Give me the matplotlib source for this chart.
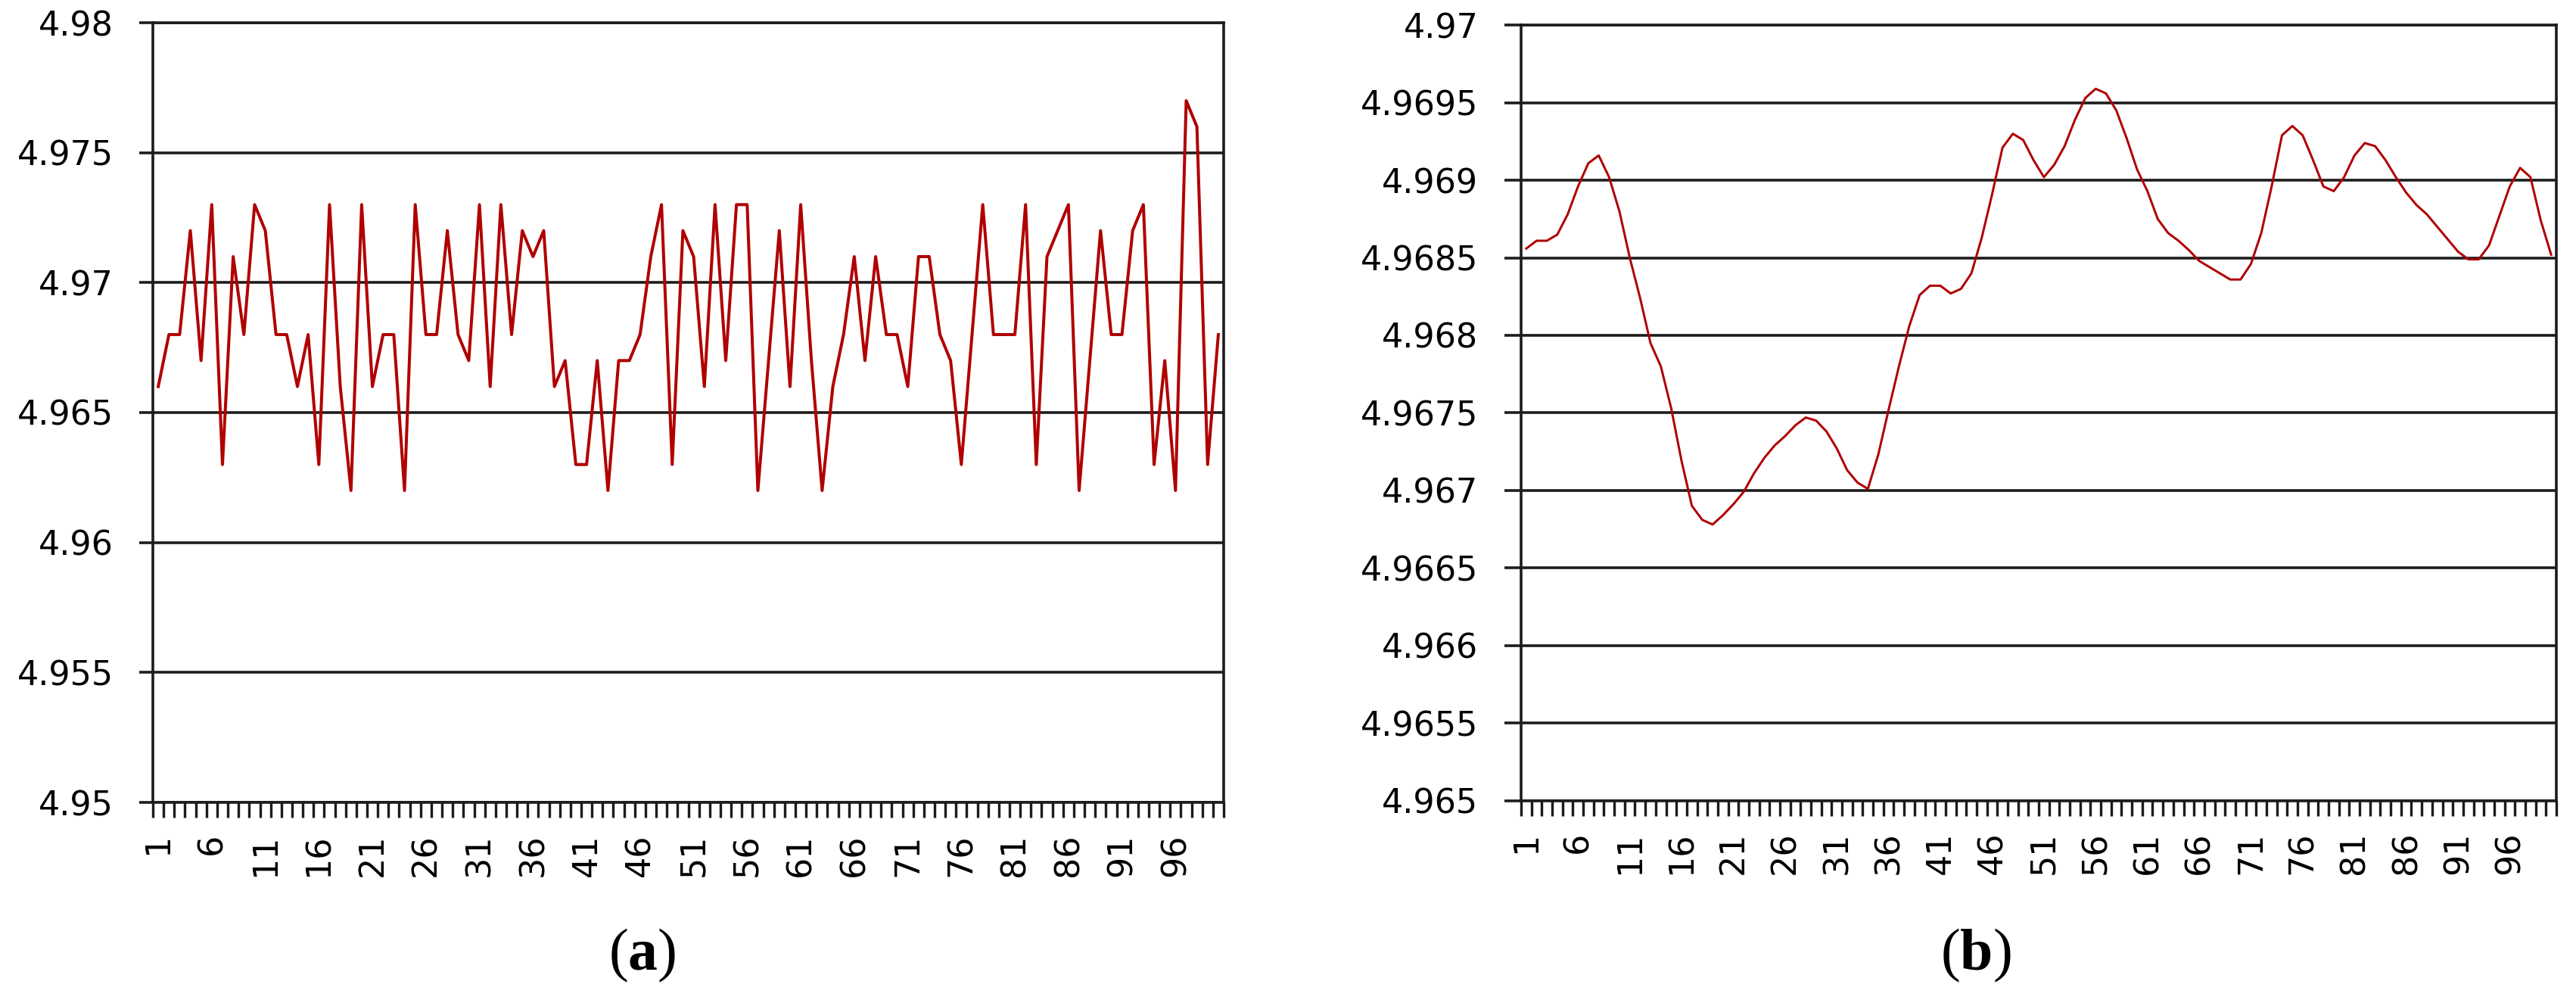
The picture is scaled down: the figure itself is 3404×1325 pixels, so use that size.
import numpy as np
import matplotlib
matplotlib.use("Agg")
import matplotlib.pyplot as plt

# ---------------- data ----------------
series_a = [4.966, 4.968, 4.968, 4.972, 4.967, 4.973, 4.963, 4.971, 4.968, 4.973,
            4.972, 4.968, 4.968, 4.966, 4.968, 4.963, 4.973, 4.966, 4.962, 4.973,
            4.966, 4.968, 4.968, 4.962, 4.973, 4.968, 4.968, 4.972, 4.968, 4.967,
            4.973, 4.966, 4.973, 4.968, 4.972, 4.971, 4.972, 4.966, 4.967, 4.963,
            4.963, 4.967, 4.962, 4.967, 4.967, 4.968, 4.971, 4.973, 4.963, 4.972,
            4.971, 4.966, 4.973, 4.967, 4.973, 4.973, 4.962, 4.967, 4.972, 4.966,
            4.973, 4.967, 4.962, 4.966, 4.968, 4.971, 4.967, 4.971, 4.968, 4.968,
            4.966, 4.971, 4.971, 4.968, 4.967, 4.963, 4.968, 4.973, 4.968, 4.968,
            4.968, 4.973, 4.963, 4.971, 4.972, 4.973, 4.962, 4.967, 4.972, 4.968,
            4.968, 4.972, 4.973, 4.963, 4.967, 4.962, 4.977, 4.976, 4.963, 4.968]

series_b = [4.96856, 4.96861, 4.96861, 4.96865, 4.96878, 4.96896, 4.96911, 4.96916, 4.96902, 4.96880,
            4.96850, 4.96824, 4.96795, 4.96780, 4.96753, 4.96719, 4.96690, 4.96681, 4.96678, 4.96684,
            4.96691, 4.96699, 4.96711, 4.96721, 4.96729, 4.96735, 4.96742, 4.96747, 4.96745, 4.96738,
            4.96727, 4.96713, 4.96705, 4.96701, 4.96723, 4.96752, 4.96780, 4.96806, 4.96826, 4.96832,
            4.96832, 4.96827, 4.96830, 4.96840, 4.96863, 4.96891, 4.96921, 4.96930, 4.96926, 4.96913,
            4.96902, 4.96910, 4.96922, 4.96939, 4.96953, 4.96959, 4.96956, 4.96945, 4.96927, 4.96907,
            4.96893, 4.96875, 4.96866, 4.96861, 4.96855, 4.96848, 4.96844, 4.96840, 4.96836, 4.96836,
            4.96846, 4.96866, 4.96896, 4.96929, 4.96935, 4.96929, 4.96913, 4.96896, 4.96893, 4.96902,
            4.96916, 4.96924, 4.96922, 4.96913, 4.96902, 4.96892, 4.96884, 4.96878, 4.96870, 4.96862,
            4.96854, 4.96849, 4.96849, 4.96858, 4.96877, 4.96896, 4.96908, 4.96902, 4.96874, 4.96852]

samples = list(range(1, 101))
xtick_labels = [str(v) for v in range(1, 101, 5)]

a_yticks = [4.95, 4.955, 4.96, 4.965, 4.97, 4.975, 4.98]
a_ylabels = ["4.95", "4.955", "4.96", "4.965", "4.97", "4.975", "4.98"]
b_yticks = [4.965, 4.9655, 4.966, 4.9665, 4.967, 4.9675, 4.968, 4.9685, 4.969, 4.9695, 4.97]
b_ylabels = ["4.965", "4.9655", "4.966", "4.9665", "4.967", "4.9675", "4.968", "4.9685",
             "4.969", "4.9695", "4.97"]
panel_labels = ["a", "b"]

# ---------------- figure ----------------
W, H = 3404, 1325
DPI = 100
fig = plt.figure(figsize=(W / DPI, H / DPI), dpi=DPI)
fig.patch.set_facecolor("white")

PX = 72.0 / DPI  # points per pixel
GRID_C = "#1c1c1c"
LINE_C = "#B00000"


def make_axes(left, top, right, bottom):
    return fig.add_axes([left / W, 1 - bottom / H, (right - left) / W, (bottom - top) / H])


def style(ax, yticks, ylabels, ylim, ytick_len_px):
    ax.set_xlim(0.5, 100.5)
    ax.set_ylim(*ylim)
    ax.set_yticks(yticks)
    ax.set_yticklabels(ylabels, fontsize=32, family="DejaVu Sans", color="black")
    ax.yaxis.grid(True, color=GRID_C, linewidth=3.6 * PX, zorder=0)
    ax.set_axisbelow(True)
    for s in ax.spines.values():
        s.set_color(GRID_C)
        s.set_linewidth(3.6 * PX)
    ax.tick_params(axis="y", which="major", direction="out", length=ytick_len_px * PX,
                   width=3.6 * PX, color=GRID_C, pad=34 * PX)
    # x: labels at category centres, ticks at category boundaries
    ax.set_xticks(list(range(1, 101, 5)))
    ax.set_xticklabels(xtick_labels, rotation=90, fontsize=32, family="DejaVu Sans")
    ax.set_xticks(np.arange(0.5, 101.0, 1.0), minor=True)
    ax.tick_params(axis="x", which="major", length=0, pad=41 * PX)
    ax.tick_params(axis="x", which="minor", direction="out", length=20 * PX,
                   width=3.4 * PX, color=GRID_C)


axA = make_axes(202, 30, 1617, 1060)
axA.plot(samples, series_a, color=LINE_C, linewidth=4.0 * PX, zorder=3)
style(axA, a_yticks, a_ylabels, (4.95, 4.98), 18)

axB = make_axes(2010, 33.3, 3378, 1057.5)
axB.plot(samples, series_b, color=LINE_C, linewidth=3.0 * PX, zorder=3)
style(axB, b_yticks, b_ylabels, (4.965, 4.97), 22.5)

# panel labels "(a)" / "(b)" with bold letter
plt.rcParams["mathtext.fontset"] = "custom"
plt.rcParams["mathtext.rm"] = "Liberation Serif"
plt.rcParams["mathtext.bf"] = "Liberation Serif:bold"
for lab, cx in zip(panel_labels, [849, 2611]):
    fig.text(cx / W, 1 - 1262 / H, r"$\mathrm{(}\mathbf{" + lab + r"}\mathrm{)}$",
             fontsize=56, ha="center", va="center", color="black")

fig.savefig("out.png", dpi=DPI, facecolor="white")
